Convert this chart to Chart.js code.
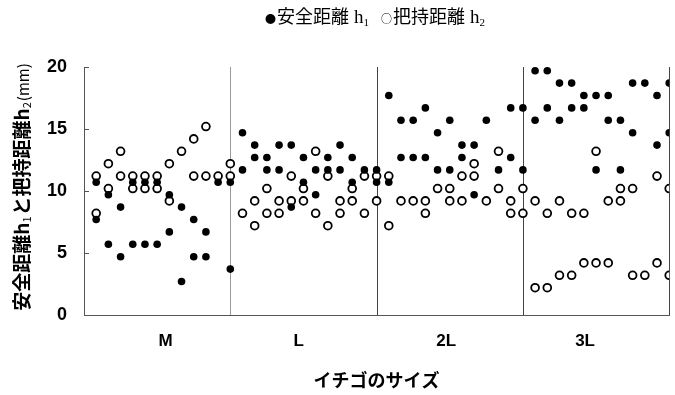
<!DOCTYPE html>
<html lang="ja">
<head>
<meta charset="UTF-8">
<title>イチゴのサイズ</title>
<script src="https://cdn.jsdelivr.net/npm/chart.js"></script>
<style>
  body { margin: 0; background: #fff; }
  #wrap { width: 675px; height: 395px; }
</style>
</head>
<body>
<div id="wrap"><canvas id="c" width="675" height="395"></canvas></div>
<script>
const sizes = ['M', 'L', '2L', '3L'];

// 12 sample columns per size, each column lists its values (mm)
const h1M  = [[10.7,7.7],[9.7,5.7],[8.7,4.7],[10.7,5.7],[10.7,5.7],[10.7,5.7],[9.7,6.7],[8.7,2.7],[7.7,4.7],[6.7,4.7],[10.7],[10.7,3.7]];
const h2M  = [[11.2,8.2],[12.2,10.2],[13.2,11.2],[11.2,10.2],[11.2,10.2],[11.2,10.2],[12.2,9.2],[13.2],[14.2,11.2],[15.2,11.2],[11.2],[12.2,11.2]];
const h1L  = [[14.7,11.7],[13.7,12.7],[12.7,11.7],[13.7,11.7],[13.7,8.7],[12.7,10.7],[11.7,9.7],[12.7,11.7],[13.7,11.7],[12.7,10.7],[11.7],[11.7,10.7]];
const h2L  = [[8.2],[9.2,7.2],[10.2,8.2],[9.2,8.2],[11.2,9.2],[10.2,9.2],[13.2,8.2],[11.2,7.2],[9.2,8.2],[10.2,9.2],[11.2,8.2],[11.2,9.2]];
const h12L = [[17.7,10.7],[15.7,12.7],[15.7,12.7],[16.7,12.7],[14.7,11.7],[15.7,11.7],[13.7,12.7],[13.7,9.7],[15.7],[11.7],[16.7,12.7],[16.7,11.7]];
const h22L = [[11.2,7.2],[9.2],[9.2],[9.2,8.2],[10.2],[10.2,9.2],[11.2,9.2],[12.2,11.2],[9.2],[13.2,10.2],[9.2,8.2],[10.2,8.2]];
const h13L = [[19.7,15.7],[19.7,16.7],[18.7,15.7],[18.7,16.7],[17.7,16.7],[17.7,11.7],[17.7,15.7],[15.7,11.7],[18.7,14.7],[18.7],[17.7,13.7],[18.7,14.7]];
const h23L = [[9.2,2.2],[8.2,2.2],[9.2,3.2],[8.2,3.2],[8.2,4.2],[13.2,4.2],[9.2,4.2],[10.2,9.2],[10.2,3.2],[3.2],[11.2,4.2],[10.2,3.2]];

const perSize = 12;
const labelAt = [6.7, 17.6, 29.7, 41.1];

function toPoints(groups) {
  const pts = [];
  groups.forEach((cols, g) => {
    cols.forEach((vals, j) => {
      vals.forEach(v => pts.push({ x: g * perSize + j + 1, y: v }));
    });
  });
  return pts;
}

function drawRuns(ctx, runs, cx, cy) {
  let w = 0;
  runs.forEach(r => { ctx.font = r.font; r.w = ctx.measureText(r.t).width + (r.gap || 0); w += r.w; });
  let x = cx - w / 2;
  ctx.textAlign = 'left';
  ctx.textBaseline = 'alphabetic';
  runs.forEach(r => {
    ctx.font = r.font;
    ctx.fillText(r.t, x, cy + (r.dy || 0));
    x += r.w;
  });
}

const jp = '"Noto Sans CJK JP", sans-serif';
const serif = '"Liberation Serif", "DejaVu Serif", serif';

const decor = {
  id: 'decor',
  beforeDatasetsDraw(chart) {
    const { ctx, chartArea: a, scales: { x, y } } = chart;
    ctx.save();
    // size separators and right frame
    [12, 24, 36, 48].forEach((v, i) => {
      const px = Math.round(x.getPixelForValue(v)) + 0.5;
      ctx.strokeStyle = i === 0 ? '#999' : '#444';
      ctx.lineWidth = 1;
      ctx.beginPath();
      ctx.moveTo(px, a.top);
      ctx.lineTo(px, a.bottom);
      ctx.stroke();
    });
    // inward ticks on y axis
    ctx.strokeStyle = '#555';
    [5, 10, 15, 20].forEach(v => {
      const py = Math.round(y.getPixelForValue(v)) + 0.5;
      ctx.beginPath();
      ctx.moveTo(a.left, py);
      ctx.lineTo(a.left + 5, py);
      ctx.stroke();
    });
    ctx.restore();
  },
  afterDraw(chart) {
    const { ctx } = chart;
    ctx.save();
    ctx.fillStyle = '#000';
    // legend
    drawRuns(ctx, [
      { t: '●', font: '11px ' + jp, gap: 1 },
      { t: '安全距離', font: '18px ' + jp, gap: 5 },
      { t: 'h', font: '19px ' + serif },
      { t: '1', font: '11px ' + serif, dy: 3, gap: 12 },
      { t: '○', font: '11px ' + jp, gap: 1 },
      { t: '把持距離', font: '18px ' + jp, gap: 5 },
      { t: 'h', font: '19px ' + serif },
      { t: '2', font: '11px ' + serif, dy: 3 }
    ], 375, 23);
    // y axis title with subscripts
    ctx.translate(29, 187);
    ctx.rotate(-Math.PI / 2);
    drawRuns(ctx, [
      { t: '安全距離', font: 'bold 19px ' + jp },
      { t: 'h', font: 'bold 19px ' + jp },
      { t: '1', font: '11px ' + jp, dy: 2, gap: 1 },
      { t: 'と把持距離', font: 'bold 19px ' + jp },
      { t: 'h', font: 'bold 19px ' + jp },
      { t: '2', font: '11px ' + jp, dy: 2, gap: 1 },
      { t: '(mm)', font: '15px ' + jp }
    ], 0, 0);
    ctx.restore();
  }
};

new Chart(document.getElementById('c'), {
  type: 'scatter',
  data: {
    datasets: [
      {
        label: '安全距離 h1',
        data: toPoints([h1M, h1L, h12L, h13L]),
        pointStyle: 'circle',
        pointRadius: 3.8,
        backgroundColor: '#000',
        borderColor: '#000',
        borderWidth: 0,
        clip: { left: 6, top: 6, right: 0, bottom: 6 }
      },
      {
        label: '把持距離 h2',
        data: toPoints([h2M, h2L, h22L, h23L]),
        pointStyle: 'circle',
        pointRadius: 3.9,
        backgroundColor: '#fff',
        borderColor: '#000',
        borderWidth: 1.8,
        clip: { left: 6, top: 6, right: 0, bottom: 6 }
      }
    ]
  },
  options: {
    responsive: false,
    animation: false,
    events: [],
    layout: { padding: { left: 0, right: 2, top: 67, bottom: 0 } },
    plugins: {
      legend: { display: false },
      tooltip: { enabled: false }
    },
    scales: {
      x: {
        type: 'linear',
        min: 0,
        max: 48,
        afterBuildTicks: s => { s.ticks = labelAt.map(v => ({ value: v })); },
        afterFit: s => { s.height = 80; },
        grid: { display: false, drawTicks: false },
        border: { display: true, color: '#555', width: 1 },
        ticks: {
          autoSkip: false,
          maxRotation: 0,
          padding: 16,
          color: '#000',
          font: { family: 'Liberation Sans', size: 17, weight: 'bold' },
          callback: (v, i) => sizes[i]
        },
        title: {
          display: true,
          text: 'イチゴのサイズ',
          color: '#000',
          padding: { top: 14 },
          font: { family: 'Noto Sans CJK JP', size: 18, weight: 'bold' }
        }
      },
      y: {
        min: 0,
        max: 20,
        afterFit: s => { s.width = 84; },
        grid: { display: false, drawTicks: false },
        border: { display: true, color: '#555', width: 1 },
        ticks: {
          stepSize: 5,
          padding: 17,
          color: '#000',
          font: { family: 'Liberation Sans', size: 18, weight: 'bold' }
        }
      }
    }
  },
  plugins: [decor]
});
</script>
</body>
</html>
